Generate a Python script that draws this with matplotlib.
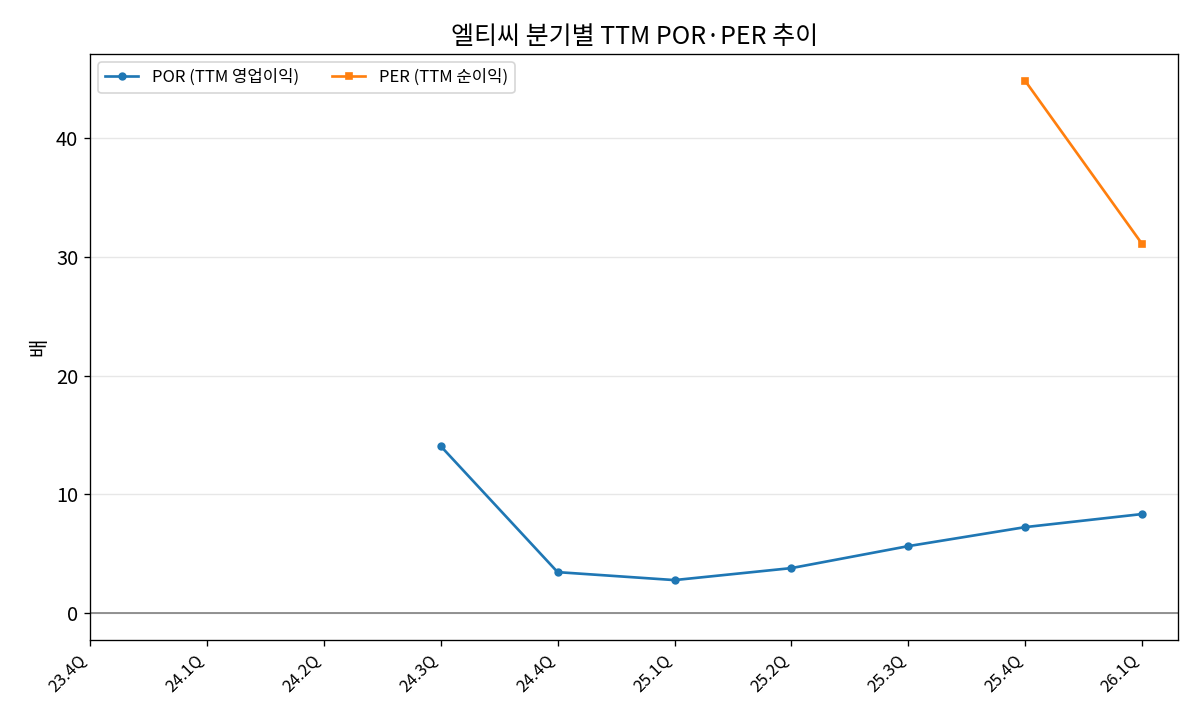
import numpy as np
import matplotlib
matplotlib.use('Agg')
import matplotlib.pyplot as plt

plt.rcParams['font.family'] = ['Noto Sans CJK KR', 'DejaVu Sans']
plt.rcParams['axes.unicode_minus'] = False

quarters = ['23.4Q', '24.1Q', '24.2Q', '24.3Q', '24.4Q', '25.1Q', '25.2Q', '25.3Q', '25.4Q', '26.1Q']
por = [np.nan, np.nan, np.nan, 14.06, 3.45, 2.78, 3.79, 5.64, 7.24, 8.34]
per = [np.nan, np.nan, np.nan, np.nan, np.nan, np.nan, np.nan, np.nan, 44.8, 31.07]

x = np.arange(len(quarters))

fig, ax = plt.subplots(figsize=(10, 6), dpi=120)
ax.plot(x, por, marker='o', ms=4, lw=1.6, color='#1f77b4', label='POR (TTM 영업이익)')
ax.plot(x, per, marker='s', ms=4, lw=1.6, color='#ff7f0e', label='PER (TTM 순이익)')
ax.axhline(0, color='gray', lw=1)
ax.grid(axis='y', alpha=0.3)
ax.set_xticks(x)
ax.set_xticklabels(quarters, rotation=45, ha='right', fontsize=10)
ax.tick_params(axis='y', labelsize=12)
ax.set_xlim(0, 9.31)
ax.set_ylim(-2.27, 47.07)
ax.set_ylabel('배', fontsize=12)
ax.set_title('엘티씨 분기별 TTM POR·PER 추이', fontsize=15)
ax.legend(loc='upper left', ncol=2, fontsize=10)
fig.subplots_adjust(left=0.075, right=0.982, top=0.925, bottom=0.111)
plt.savefig('out.png')
